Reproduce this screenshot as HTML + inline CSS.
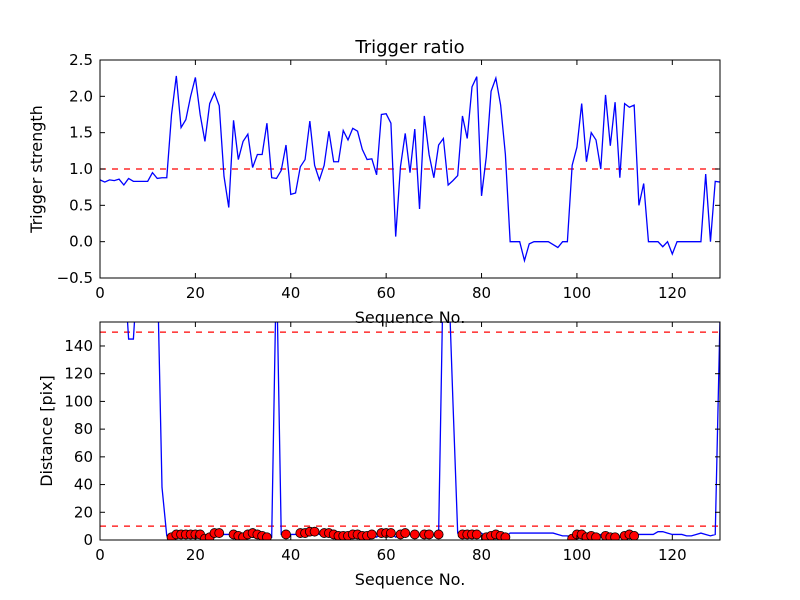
<!DOCTYPE html>
<html><head><meta charset="utf-8">
<style>
html,body{margin:0;padding:0;background:#fff;}
svg{display:block;font-family:"DejaVu Sans","Liberation Sans",sans-serif;}
</style></head>
<body>
<svg id="chart" width="800" height="600" viewBox="0 0 800 600" xmlns="http://www.w3.org/2000/svg"></svg>
<script>
const triggerRatio = [0.85,0.82,0.85,0.84,0.86,0.78,0.87,0.83,0.83,0.83,0.83,0.95,0.87,0.88,0.88,1.75,2.28,1.57,1.68,2.0,2.26,1.75,1.38,1.9,2.05,1.87,0.9,0.47,1.67,1.13,1.38,1.48,1.02,1.2,1.2,1.63,0.88,0.87,0.98,1.33,0.65,0.67,1.03,1.13,1.66,1.05,0.85,1.05,1.52,1.1,1.1,1.53,1.4,1.56,1.52,1.27,1.13,1.14,0.92,1.75,1.76,1.63,0.07,1.03,1.49,0.95,1.55,0.45,1.73,1.2,0.88,1.33,1.42,0.78,0.84,0.91,1.73,1.42,2.13,2.27,0.63,1.17,2.07,2.25,1.88,1.2,0,0,0,-0.26,-0.03,0,0,0,0,-0.04,-0.08,0,0,1.05,1.3,1.9,1.1,1.5,1.4,1.0,2.02,1.32,1.92,0.88,1.9,1.85,1.88,0.5,0.8,0,0,0,-0.07,0,-0.17,0,0,0,0,0,0,0.93,0,0.83,0.82];
const distance = [200,200,200,200,200,200,145,145,200,200,200,200,200,38,3,2,4,4,4,4,4,4,1,2,5,5,4,4,4,3,2,4,5,4,3,2,2,200,4,4,4,4,5,5,6,6,4,5,5,4,3,3,3,4,4,3,3,4,2,5,5,5,2,4,5,4,4,4,4,4,4,4,200,200,100,5,4,4,4,4,5,2,3,4,3,2,5,5,5,5,5,5,5,5,5,5,4,3,3,1,4,4,2,3,2,4,3,2,2,2,3,4,3,4,4,4,4,6,6,5,4,4,4,3,3,4,5,4,3,4,160];
const thresholdRatio = 1.0;
const thresholdsDist = [10,150];
const xTicks = [0,20,40,60,80,100,120];
const yTicksTop = [-0.5,0.0,0.5,1.0,1.5,2.0,2.5];
const yTicksBot = [0,20,40,60,80,100,120,140];

const NS="http://www.w3.org/2000/svg";
const svg=document.getElementById('chart');
function el(t,a,p){const e=document.createElementNS(NS,t);for(const k in a)e.setAttribute(k,a[k]);(p||svg).appendChild(e);return e;}
const L=100,R=720;
const xs=v=>L+(v/130)*(R-L);
function panel(top,bot,ymin,ymax,name){
  const ys=v=>bot-(v-ymin)/(ymax-ymin)*(bot-top);
  const g=el('g',{});
  
  
  const cp=el('clipPath',{id:'c'+name},g);el('rect',{x:L,y:top,width:R-L,height:bot-top},cp);
  return {g,ys,top,bot};
}
function frame(p,yt,fmt,ylabel,yl){
  const g=p.g;
  xTicks.forEach(t=>{const x=xs(t);
    el('line',{x1:x,y1:p.bot,x2:x,y2:p.bot-5,stroke:'#000'},g);
    el('line',{x1:x,y1:p.top,x2:x,y2:p.top+5,stroke:'#000'},g);
    const tx=el('text',{x:x,y:p.bot+20,'text-anchor':'middle','font-size':15},g);tx.textContent=t;
    
    
  });
  yt.forEach(t=>{const y=p.ys(t);
    el('line',{x1:L,y1:y,x2:L+5,y2:y,stroke:'#000'},g);
    el('line',{x1:R,y1:y,x2:R-5,y2:y,stroke:'#000'},g);
    const tx=el('text',{x:L-7,y:y+5,'text-anchor':'end','font-size':15},g);tx.textContent=fmt(t);
    
    
  });
  el('rect',{x:L,y:p.top,width:R-L,height:p.bot-p.top,fill:'none',stroke:'#000','stroke-width':1},g);
  const xl=el('text',{x:410,y:p.bot+45,'text-anchor':'middle','font-size':16},g);xl.textContent='Sequence No.';
  
  
  const yy=(p.top+p.bot)/2;
  const ylt=el('text',{x:yl,y:yy,'text-anchor':'middle','font-size':16,transform:`rotate(-90 ${yl} ${yy})`},g);ylt.textContent=ylabel;
  
  
}
// top panel
const p1=panel(60,278,-0.5,2.5,'trigger-panel');
const h1=el('line',{x1:L,x2:R,y1:p1.ys(thresholdRatio),y2:p1.ys(thresholdRatio),stroke:'#f00','stroke-dasharray':'6,6','stroke-width':1.2,'clip-path':'url(#ctrigger-panel)'},p1.g);


const l1=el('polyline',{points:triggerRatio.map((v,i)=>xs(i)+','+p1.ys(v)).join(' '),fill:'none',stroke:'#00f','stroke-width':1.3,'clip-path':'url(#ctrigger-panel)'},p1.g);


frame(p1,yTicksTop,t=>(t<0?'\u2212':'')+Math.abs(t).toFixed(1),'Trigger strength',42);
const ti=el('text',{x:410,y:53,'text-anchor':'middle','font-size':18});ti.textContent='Trigger ratio';


// bottom panel
const p2=panel(322,540,0,157.3,'distance-panel');
thresholdsDist.forEach(t=>{const h=el('line',{x1:L,x2:R,y1:p2.ys(t),y2:p2.ys(t),stroke:'#f00','stroke-dasharray':'6,6','stroke-width':1.2},p2.g);
  
  });
const l2=el('polyline',{points:distance.map((v,i)=>xs(i)+','+p2.ys(v)).join(' '),fill:'none',stroke:'#00f','stroke-width':1.3,'clip-path':'url(#cdistance-panel)'},p2.g);


distance.forEach((v,i)=>{ if(triggerRatio[i]>thresholdRatio){
  const c=el('circle',{cx:xs(i),cy:p2.ys(v),r:4.5,fill:'#f00',stroke:'#000','stroke-width':0.8,'clip-path':'url(#cdistance-panel)'},p2.g);
  
  
}});
frame(p2,yTicksBot,t=>String(t),'Distance [pix]',52);
</script>
</body></html>
